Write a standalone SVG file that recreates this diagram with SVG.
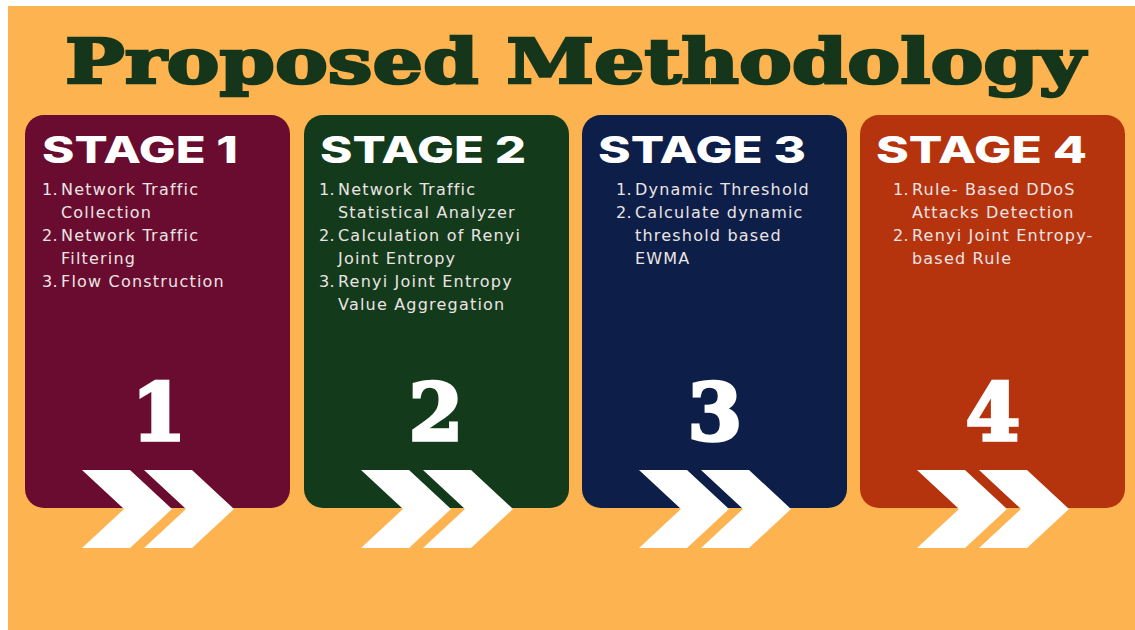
<svg xmlns="http://www.w3.org/2000/svg" width="1135" height="630" viewBox="0 0 1135 630">
  <style>
    .title { font-family: "DejaVu Serif", "Liberation Serif", serif; font-weight: bold; font-size: 62px; fill: #15361a; stroke: #15361a; stroke-width: 2.5px; }
    .stage { font-family: "Inter", "DejaVu Sans", sans-serif; font-weight: 800; font-size: 37px; fill: #ffffff; }
    .item { font-family: "DejaVu Sans", "Liberation Sans", sans-serif; font-size: 16px; fill: #ece4e4; letter-spacing: 1.2px; }
    .idx { text-anchor: end; letter-spacing: 0.4px; }
    .num { font-family: "DejaVu Serif", "Liberation Serif", serif; font-weight: bold; font-size: 78px; fill: #ffffff; stroke: #ffffff; stroke-width: 3.5px; text-anchor: middle; }
    .chev { fill: #ffffff; }
  </style>
  <defs>
    <!-- double chevron, drawn relative to the card's left edge -->
    <g id="chevrons">
      <polygon points="57,355 105,355 147,394 105,433 57,433 99,394"/>
      <polygon points="119,355 167,355 209,394 167,433 119,433 161,394"/>
    </g>
  </defs>

  <!-- page background -->
  <rect x="0" y="0" width="1135" height="630" fill="#ffffff"/>
  <rect x="8" y="6" width="1127" height="624" fill="#fdb34f"/>

  <text class="title" x="65" y="83" textLength="1020" lengthAdjust="spacingAndGlyphs">Proposed Methodology</text>

  <!-- stage 1 -->
  <g id="stage1" transform="translate(25,115)">
    <rect x="0" y="0" width="265" height="393" rx="19" fill="#6a0c2f"/>
    <text class="stage" x="17" y="48" textLength="196" lengthAdjust="spacingAndGlyphs">STAGE 1</text>
    <text class="item idx" x="33" y="80">1.</text><text class="item" x="36" y="80">Network Traffic</text>
    <text class="item" x="36" y="103">Collection</text>
    <text class="item idx" x="33" y="126">2.</text><text class="item" x="36" y="126">Network Traffic</text>
    <text class="item" x="36" y="149">Filtering</text>
    <text class="item idx" x="33" y="172">3.</text><text class="item" x="36" y="172">Flow Construction</text>
    <text class="num" x="134" y="325">1</text>
    <use href="#chevrons" class="chev"/>
  </g>

  <!-- stage 2 -->
  <g id="stage2" transform="translate(304,115)">
    <rect x="0" y="0" width="265" height="393" rx="19" fill="#133b1b"/>
    <text class="stage" x="16" y="48" textLength="206" lengthAdjust="spacingAndGlyphs">STAGE 2</text>
    <text class="item idx" x="31" y="80">1.</text><text class="item" x="34" y="80">Network Traffic</text>
    <text class="item" x="34" y="103">Statistical Analyzer</text>
    <text class="item idx" x="31" y="126">2.</text><text class="item" x="34" y="126">Calculation of Renyi</text>
    <text class="item" x="34" y="149">Joint Entropy</text>
    <text class="item idx" x="31" y="172">3.</text><text class="item" x="34" y="172">Renyi Joint Entropy</text>
    <text class="item" x="34" y="195">Value Aggregation</text>
    <text class="num" x="132" y="325">2</text>
    <use href="#chevrons" class="chev"/>
  </g>

  <!-- stage 3 -->
  <g id="stage3" transform="translate(582,115)">
    <rect x="0" y="0" width="265" height="393" rx="19" fill="#0d1f48"/>
    <text class="stage" x="16" y="48" textLength="208" lengthAdjust="spacingAndGlyphs">STAGE 3</text>
    <text class="item idx" x="50" y="80">1.</text><text class="item" x="53" y="80">Dynamic Threshold</text>
    <text class="item idx" x="50" y="103">2.</text><text class="item" x="53" y="103">Calculate dynamic</text>
    <text class="item" x="53" y="126">threshold based</text>
    <text class="item" x="53" y="149">EWMA</text>
    <text class="num" x="133" y="325">3</text>
    <use href="#chevrons" class="chev"/>
  </g>

  <!-- stage 4 -->
  <g id="stage4" transform="translate(860,115)">
    <rect x="0" y="0" width="265" height="393" rx="19" fill="#b5340e"/>
    <text class="stage" x="16" y="48" textLength="211" lengthAdjust="spacingAndGlyphs">STAGE 4</text>
    <text class="item idx" x="49" y="80">1.</text><text class="item" x="52" y="80">Rule- Based DDoS</text>
    <text class="item" x="52" y="103">Attacks Detection</text>
    <text class="item idx" x="49" y="126">2.</text><text class="item" x="52" y="126">Renyi Joint Entropy-</text>
    <text class="item" x="52" y="149">based Rule</text>
    <text class="num" x="133" y="325">4</text>
    <use href="#chevrons" class="chev"/>
  </g>
</svg>
